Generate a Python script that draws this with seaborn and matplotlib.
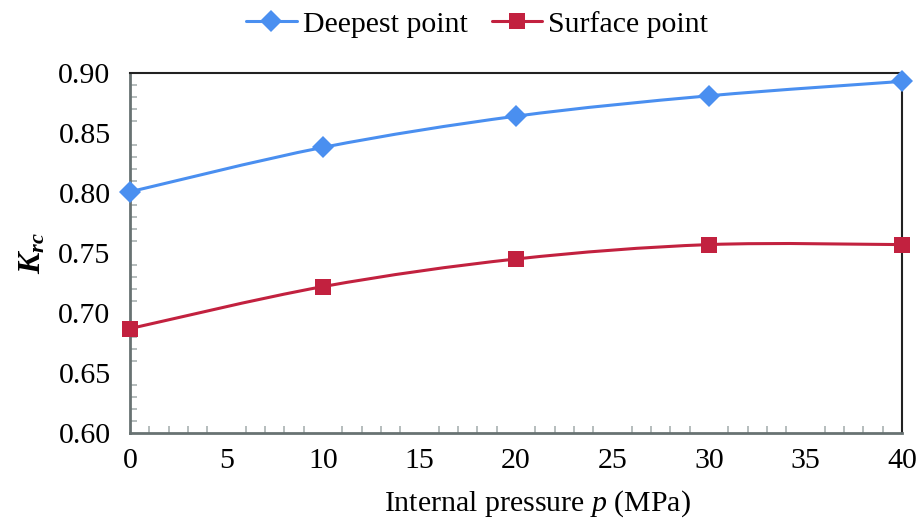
import numpy as np
import pandas as pd
import seaborn as sns
import matplotlib.pyplot as plt
from matplotlib.path import Path
from matplotlib.patches import PathPatch
from matplotlib.lines import Line2D
from matplotlib.ticker import MultipleLocator

# data
pressure = [0, 10, 20, 30, 40]
k_deepest = [0.801, 0.838, 0.864, 0.881, 0.893]
k_surface = [0.687, 0.722, 0.745, 0.757, 0.757]
series_names = ['Deepest point', 'Surface point']

BLUE = '#4A8FF0'
RED = '#C2213F'


def smooth_path(xs, ys, tension=1 / 6):
    """Catmull-Rom style bezier through the points (like a spreadsheet smoothed line)."""
    xs = np.asarray(xs, float)
    ys = np.asarray(ys, float)
    verts = [(xs[0], ys[0])]
    codes = [Path.MOVETO]
    n = len(xs)
    for i in range(n - 1):
        p0 = i - 1 if i > 0 else i
        p3 = i + 2 if i + 2 < n else i + 1
        c1 = (xs[i] + (xs[i + 1] - xs[p0]) * tension, ys[i] + (ys[i + 1] - ys[p0]) * tension)
        c2 = (xs[i + 1] - (xs[p3] - xs[i]) * tension, ys[i + 1] - (ys[p3] - ys[i]) * tension)
        verts += [c1, c2, (xs[i + 1], ys[i + 1])]
        codes += [Path.CURVE4] * 3
    return Path(verts, codes)


sns.set_style('white')
plt.rcParams['font.family'] = ['Liberation Serif', 'DejaVu Serif']
plt.rcParams['text.color'] = 'black'
plt.rcParams['axes.labelcolor'] = 'black'
plt.rcParams['xtick.labelcolor'] = 'black'
plt.rcParams['ytick.labelcolor'] = 'black'
plt.rcParams['mathtext.fontset'] = 'custom'
plt.rcParams['mathtext.rm'] = 'Liberation Serif'
plt.rcParams['mathtext.it'] = 'Liberation Serif:italic'
plt.rcParams['mathtext.bf'] = 'Liberation Serif:bold:italic'

df = pd.DataFrame({
    'p': pressure * 2,
    'K': k_deepest + k_surface,
    'series': [series_names[0]] * len(pressure) + [series_names[1]] * len(pressure),
})

fig = plt.figure(figsize=(9.23, 5.30), dpi=100)
ax = fig.add_axes([0.1408, 0.183, 0.8365, 0.6793])

palette = {series_names[0]: BLUE, series_names[1]: RED}
markers = {series_names[0]: 'D', series_names[1]: 's'}
sns.lineplot(data=df, x='p', y='K', hue='series', style='series', palette=palette,
             markers=markers, dashes=False, linestyle='', markersize=11,
             markeredgewidth=0, legend=False, ax=ax, zorder=4, clip_on=False)

for ys, color in [(k_deepest, BLUE), (k_surface, RED)]:
    ax.add_patch(PathPatch(smooth_path(pressure, ys), facecolor='none',
                           edgecolor=color, lw=2.2, zorder=3))

ax.set_xlim(0, 40)
ax.set_ylim(0.60, 0.90)
ax.xaxis.set_major_locator(MultipleLocator(5))
ax.xaxis.set_minor_locator(MultipleLocator(1))
ax.yaxis.set_major_locator(MultipleLocator(0.05))
ax.yaxis.set_minor_locator(MultipleLocator(0.01))
ax.yaxis.set_major_formatter(plt.FuncFormatter(lambda v, _: f'{v:.2f}'))

tick_col = '#A9B2B2'
ax.tick_params(axis='x', which='major', direction='inout', length=11, width=1.2,
               color=tick_col, labelsize=21.5, pad=5)
ax.tick_params(axis='y', which='major', direction='out', length=6, width=1.2,
               color=tick_col, labelsize=21.5, pad=8)
ax.tick_params(which='minor', direction='in', length=5, width=1.2, color=tick_col)
ax.tick_params(axis='x', which='minor', bottom=True)
ax.tick_params(axis='y', which='minor', left=True)

for side in ['left', 'bottom']:
    ax.spines[side].set_color('#687272')
    ax.spines[side].set_linewidth(2)
for side in ['top', 'right']:
    ax.spines[side].set_color('#222222')
    ax.spines[side].set_linewidth(1.5)

ax.set_xlabel('Internal pressure $p$ (MPa)', fontsize=21.5)
ax.xaxis.set_label_coords(0.528, -0.155)
ax.set_ylabel(r'$\mathbf{K_{rc}}$', fontsize=23, labelpad=8)

handles = [
    Line2D([], [], color=BLUE, lw=2.2, marker='D', markersize=11, markeredgewidth=0),
    Line2D([], [], color=RED, lw=2.2, marker='s', markersize=11, markeredgewidth=0),
]
fig.legend(handles, series_names, loc='upper center', bbox_to_anchor=(0.517, 1.03),
           ncol=2, frameon=False, fontsize=21.5, handlelength=1.7, columnspacing=0.8,
           handletextpad=0.2)

fig.savefig('out.png', dpi=100)
